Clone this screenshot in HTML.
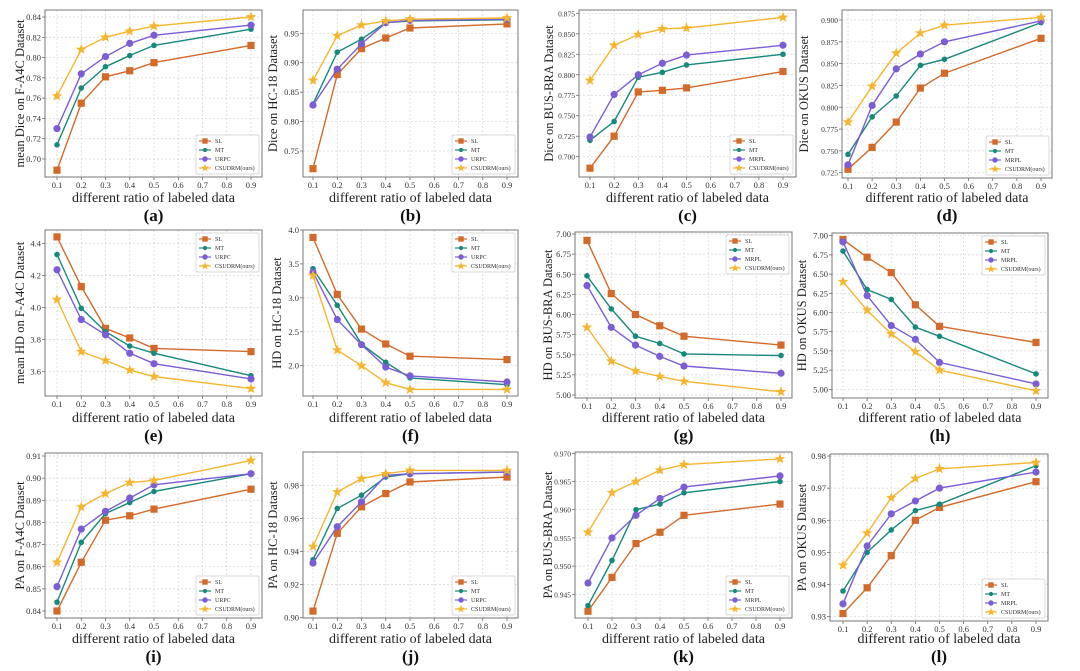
<!DOCTYPE html>
<html><head><meta charset="utf-8">
<style>
html,body{margin:0;padding:0;background:#fff;}
svg{display:block;font-family:"Liberation Serif",serif;}
</style></head>
<body>
<svg id="fig" width="1080" height="671" viewBox="0 0 1080 671" xmlns="http://www.w3.org/2000/svg"></svg>
<script>
const xCats = [0.1,0.2,0.3,0.4,0.5,0.9];
const xTicks = [0.1,0.2,0.3,0.4,0.5,0.6,0.7,0.8,0.9];

const a_SL=[0.689,0.755,0.781,0.787,0.795,0.812];
const a_MT=[0.714,0.770,0.791,0.802,0.812,0.828];
const a_M3=[0.730,0.784,0.801,0.814,0.822,0.832];
const a_OU=[0.762,0.808,0.820,0.826,0.831,0.840];
const a_yt=[0.70,0.72,0.74,0.76,0.78,0.80,0.82,0.84];

const b_SL=[0.720,0.880,0.924,0.942,0.959,0.966];
const b_MT=[0.830,0.918,0.940,0.968,0.971,0.973];
const b_M3=[0.828,0.889,0.932,0.968,0.972,0.974];
const b_OU=[0.870,0.946,0.964,0.971,0.974,0.976];
const b_yt=[0.75,0.80,0.85,0.90,0.95];

const c_SL=[0.686,0.725,0.779,0.781,0.784,0.804];
const c_MT=[0.720,0.743,0.797,0.803,0.812,0.825];
const c_M3=[0.724,0.776,0.800,0.814,0.824,0.836];
const c_OU=[0.793,0.836,0.849,0.856,0.857,0.870];
const c_yt=[0.700,0.725,0.750,0.775,0.800,0.825,0.850,0.875];

const d_SL=[0.729,0.754,0.783,0.822,0.839,0.879];
const d_MT=[0.746,0.789,0.813,0.848,0.855,0.897];
const d_M3=[0.734,0.802,0.844,0.861,0.875,0.899];
const d_OU=[0.783,0.824,0.862,0.885,0.894,0.903];
const d_yt=[0.725,0.750,0.775,0.800,0.825,0.850,0.875,0.900];

const e_SL=[4.44,4.13,3.87,3.81,3.745,3.725];
const e_MT=[4.33,3.995,3.85,3.76,3.715,3.575];
const e_M3=[4.235,3.925,3.83,3.715,3.65,3.555];
const e_OU=[4.05,3.725,3.67,3.61,3.57,3.495];
const e_yt=[3.6,3.8,4.0,4.2,4.4];

const f_SL=[3.89,3.05,2.54,2.32,2.14,2.09];
const f_MT=[3.43,2.89,2.32,2.05,1.82,1.72];
const f_M3=[3.38,2.68,2.31,1.98,1.85,1.76];
const f_OU=[3.33,2.23,2.00,1.75,1.65,1.65];
const f_yt=[2.0,2.5,3.0,3.5,4.0];

const g_SL=[6.92,6.26,6.00,5.86,5.73,5.62];
const g_MT=[6.48,6.07,5.73,5.64,5.51,5.49];
const g_M3=[6.36,5.84,5.62,5.48,5.36,5.27];
const g_OU=[5.84,5.42,5.30,5.23,5.17,5.04];
const g_yt=[5.00,5.25,5.50,5.75,6.00,6.25,6.50,6.75,7.00];

const h_SL=[6.95,6.72,6.52,6.10,5.82,5.61];
const h_MT=[6.80,6.30,6.17,5.81,5.69,5.20];
const h_M3=[6.92,6.22,5.83,5.65,5.35,5.07];
const h_OU=[6.40,6.03,5.72,5.49,5.25,4.98];
const h_yt=[5.00,5.25,5.50,5.75,6.00,6.25,6.50,6.75,7.00];

const i_SL=[0.840,0.862,0.881,0.883,0.886,0.895];
const i_MT=[0.844,0.871,0.884,0.889,0.894,0.902];
const i_M3=[0.851,0.877,0.885,0.891,0.897,0.902];
const i_OU=[0.862,0.887,0.893,0.898,0.899,0.908];
const i_yt=[0.84,0.85,0.86,0.87,0.88,0.89,0.90,0.91];

const j_SL=[0.904,0.951,0.967,0.975,0.982,0.985];
const j_MT=[0.935,0.966,0.974,0.985,0.987,0.988];
const j_M3=[0.933,0.955,0.970,0.986,0.987,0.988];
const j_OU=[0.943,0.976,0.984,0.987,0.989,0.989];
const j_yt=[0.90,0.92,0.94,0.96,0.98];

const k_SL=[0.942,0.948,0.954,0.956,0.959,0.961];
const k_MT=[0.943,0.951,0.960,0.961,0.963,0.965];
const k_M3=[0.947,0.955,0.959,0.962,0.964,0.966];
const k_OU=[0.956,0.963,0.965,0.967,0.968,0.969];
const k_yt=[0.945,0.950,0.955,0.960,0.965,0.970];

const l_SL=[0.931,0.939,0.949,0.960,0.964,0.972];
const l_MT=[0.938,0.950,0.957,0.963,0.965,0.977];
const l_M3=[0.934,0.952,0.962,0.966,0.970,0.975];
const l_OU=[0.946,0.956,0.967,0.973,0.976,0.978];
const l_yt=[0.93,0.94,0.95,0.96,0.97,0.98];

const COL={SL:'#d46a2a',MT:'#17897a',M3:'#7b5ed6',OU:'#f6b52e'};
const NS='http://www.w3.org/2000/svg';
const svg=document.getElementById('fig');
function mk(tag,attrs,parent){const e=document.createElementNS(NS,tag);for(const k in attrs)e.setAttribute(k,attrs[k]);(parent||svg).appendChild(e);return e;}

const panels=[
 {id:'a',d:[a_SL,a_MT,a_M3,a_OU],yt:a_yt,dec:2,m3:'URPC',box:[45,10,262,177],xm:[57,251],ym:[0.84,17,0.70,159],yl:'mean Dice on F-A4C Dataset',ytx:21,leg:'br',row:0},
 {id:'b',d:[b_SL,b_MT,b_M3,b_OU],yt:b_yt,dec:2,m3:'URPC',box:[303,10,518,177],xm:[313,507],ym:[0.95,33.3,0.75,151],yl:'Dice on HC-18 Dataset',ytx:274,leg:'br',row:0},
 {id:'c',d:[c_SL,c_MT,c_M3,c_OU],yt:c_yt,dec:3,m3:'MRPL',box:[579,10,796,177],xm:[590,783],ym:[0.875,13.3,0.700,156.7],yl:'Dice on BUS-BRA Dataset',ytx:550,leg:'br',row:0},
 {id:'d',d:[d_SL,d_MT,d_M3,d_OU],yt:d_yt,dec:3,m3:'MRPL',box:[842,10,1052,178],xm:[848,1041],ym:[0.900,20,0.725,172.7],yl:'Dice on OKUS Dataset',ytx:805,leg:'br',row:0},
 {id:'e',d:[e_SL,e_MT,e_M3,e_OU],yt:e_yt,dec:1,m3:'URPC',box:[45,230,262,396],xm:[57,251],ym:[4.4,243.3,3.6,371.7],yl:'mean HD on F-A4C Dataset',ytx:21,leg:'tr',row:1},
 {id:'f',d:[f_SL,f_MT,f_M3,f_OU],yt:f_yt,dec:1,m3:'URPC',box:[303,230,518,396],xm:[313,507],ym:[4.0,230,2.0,365.7],yl:'HD on HC-18 Dataset',ytx:278,leg:'tr',row:1},
 {id:'g',d:[g_SL,g_MT,g_M3,g_OU],yt:g_yt,dec:2,m3:'MRPL',box:[575,232,792,398],xm:[587,781],ym:[7.0,234,5.0,395],yl:'HD on BUS-BRA Dataset',ytx:549,leg:'tr',row:1},
 {id:'h',d:[h_SL,h_MT,h_M3,h_OU],yt:h_yt,dec:2,m3:'MRPL',box:[832,233,1048,398],xm:[843,1036],ym:[7.0,235.7,5.0,389.3],yl:'HD on OKUS Dataset',ytx:803,leg:'tr',row:1},
 {id:'i',d:[i_SL,i_MT,i_M3,i_OU],yt:i_yt,dec:2,m3:'URPC',box:[45,453,262,618],xm:[57,251],ym:[0.91,456,0.84,611],yl:'PA on F-A4C Dataset',ytx:21,leg:'br',row:2},
 {id:'j',d:[j_SL,j_MT,j_M3,j_OU],yt:j_yt,dec:2,m3:'URPC',box:[303,452,518,618],xm:[313,507],ym:[0.98,485.3,0.90,617.7],yl:'PA on HC-18 Dataset',ytx:274,leg:'br',row:2},
 {id:'k',d:[k_SL,k_MT,k_M3,k_OU],yt:k_yt,dec:3,m3:'MRPL',box:[575,452,792,618],xm:[588,780],ym:[0.970,453.3,0.945,594.3],yl:'PA on BUS-BRA Dataset',ytx:549,leg:'br',row:2},
 {id:'l',d:[l_SL,l_MT,l_M3,l_OU],yt:l_yt,dec:2,m3:'MRPL',box:[830,454,1048,621],xm:[843,1036],ym:[0.98,456,0.93,616.7],yl:'PA on OKUS Dataset',ytx:803,leg:'br',row:2}
];
const rowTitleY=[202,422,643], rowLetterY=[221,441,662];
const keys=['SL','MT','M3','OU'];

function marker(g,key,x,y,s){
  s=s||1;
  const c=COL[key];
  let m;
  if(key==='SL'){m=mk('rect',{x:x-3.6*s,y:y-3.6*s,width:7.2*s,height:7.2*s,fill:c},g);}
  else if(key==='MT'){m=mk('circle',{cx:x,cy:y,r:2.8*s,fill:c},g);}
  else if(key==='M3'){m=mk('circle',{cx:x,cy:y,r:3.6*s,fill:c},g);}
  else{
    let pts=[];for(let k=0;k<10;k++){const r=(k%2?2.3:5.6)*s,a=-Math.PI/2+k*Math.PI/5;pts.push((x+r*Math.cos(a)).toFixed(1)+','+(y+r*Math.sin(a)).toFixed(1));}
    m=mk('polygon',{points:pts.join(' '),fill:c},g);
  }
  return m;
}

panels.forEach(p=>{
  const g=mk('g',{});
  
  
  const [L,T,R,B]=p.box;
  const X=v=>p.xm[0]+(v-0.1)/(0.8)*(p.xm[1]-p.xm[0]);
  const Y=v=>p.ym[1]+(v-p.ym[0])/(p.ym[2]-p.ym[0])*(p.ym[3]-p.ym[1]);
  mk('rect',{x:L,y:T,width:R-L,height:B-T,fill:'#fff'},g);
  xTicks.forEach(t=>{const x=X(t);mk('line',{x1:x,x2:x,y1:T,y2:B,stroke:'#d4d4d4','stroke-width':0.7,'stroke-dasharray':'2,2'},g);
    mk('line',{x1:x,x2:x,y1:B,y2:B+3,stroke:'#555','stroke-width':0.7},g);
    const tl=mk('text',{x:x,y:B+11,'font-size':8.5,fill:'#333','text-anchor':'middle'},g);tl.textContent=t.toFixed(1);
    
    });
  p.yt.forEach(t=>{const y=Y(t);mk('line',{x1:L,x2:R,y1:y,y2:y,stroke:'#d4d4d4','stroke-width':0.7,'stroke-dasharray':'2,2'},g);
    mk('line',{x1:L-3,x2:L,y1:y,y2:y,stroke:'#555','stroke-width':0.7},g);
    const tl=mk('text',{x:L-4,y:y+3,'font-size':p.dec===3?7.5:8.5,fill:'#333','text-anchor':'end'},g);tl.textContent=t.toFixed(p.dec);
    
    });
  mk('rect',{x:L,y:T,width:R-L,height:B-T,fill:'none',stroke:'#777','stroke-width':1},g);
  p.d.forEach((arr,si)=>{
    const key=keys[si];
    const sg=mk('g',{},g);
    
    
    mk('polyline',{points:arr.map((v,i)=>X(xCats[i]).toFixed(1)+','+Y(v).toFixed(1)).join(' '),fill:'none',stroke:COL[key],'stroke-width':1.4},sg);
    arr.forEach((v,i)=>{const m=marker(sg,key,X(xCats[i]),Y(v));
      
      });
  });
  const lw=63,lh=39;
  const lx=R-lw-3, ly=p.leg==='br'?B-lh-3:T+3;
  const lg=mk('g',{},g);
  
  
  mk('rect',{x:lx,y:ly,width:lw,height:lh,fill:'#fff',stroke:'#ccc','stroke-width':0.7,rx:1.5},lg);
  const names=['SL','MT',p.m3,'CSUDRM(ours)'];
  keys.forEach((k,i)=>{
    const yy=ly+6+i*9;
    mk('line',{x1:lx+3,x2:lx+15,y1:yy,y2:yy,stroke:COL[k],'stroke-width':1.2},lg);
    marker(lg,k,lx+9,yy,0.75);
    const t=mk('text',{x:lx+19,y:yy+2.2,'font-size':6,fill:'#333'},lg);t.textContent=names[i];
    
    
  });
  const cy=(T+B)/2;
  const yl=mk('text',{x:p.ytx,y:cy,'font-size':12.5,fill:'#222','text-anchor':'middle',transform:`rotate(-90 ${p.ytx} ${cy})`,'dominant-baseline':'middle'},g);
  yl.textContent=p.yl;
  
  
  const xl=mk('text',{x:(L+R)/2,y:rowTitleY[p.row],'font-size':14,fill:'#222','text-anchor':'middle'},g);
  xl.textContent='different ratio of labeled data';
  
  
  const pl=mk('text',{x:(L+R)/2,y:rowLetterY[p.row],'font-size':17,'font-weight':'bold',fill:'#111','text-anchor':'middle'},g);
  pl.textContent='('+p.id+')';
  
  
});
</script>
</body></html>
